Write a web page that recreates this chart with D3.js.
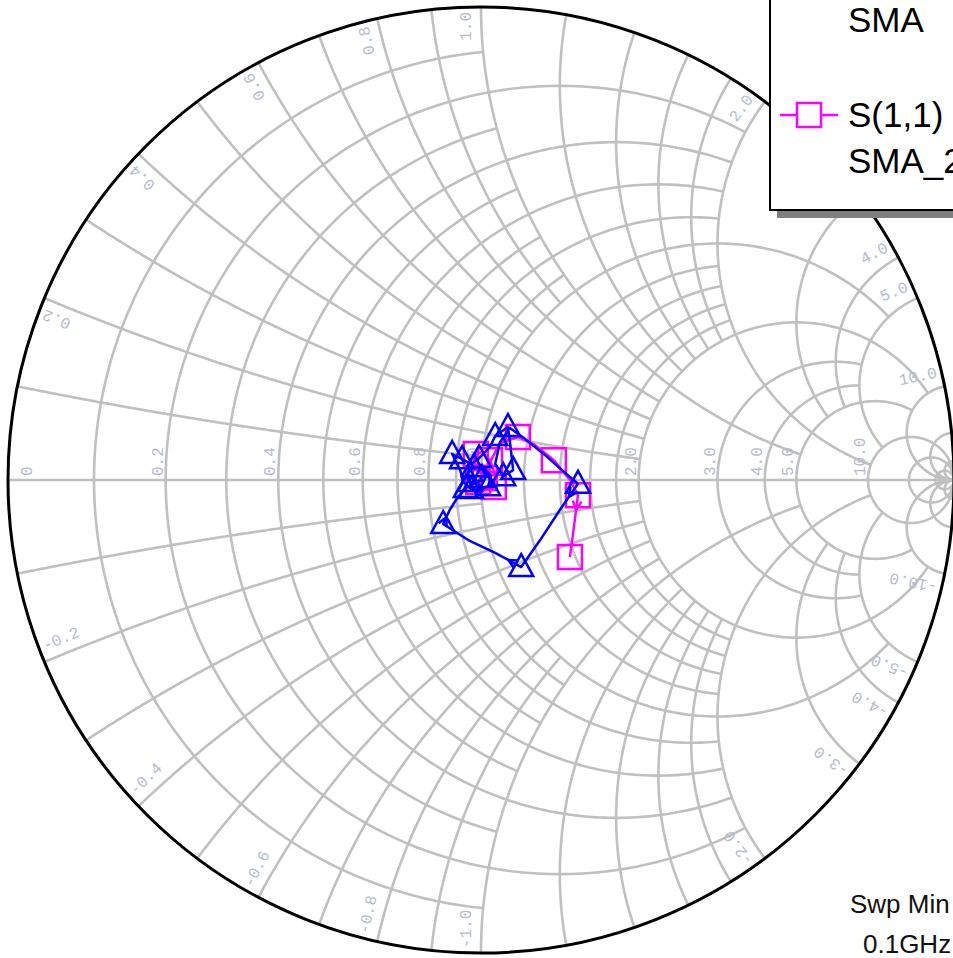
<!DOCTYPE html>
<html>
<head>
<meta charset="utf-8">
<script src="https://cdn.jsdelivr.net/npm/d3@7"></script>
<style>
  body { margin: 0; background: #fff; overflow: hidden; }
</style>
</head>
<body>
<div id="chart"></div>
<script>
// Smith chart geometry (pixels)
const W = 953, H = 958;
const cx = 481, cy = 480, R = 473;

// Grid: resistance circles and how far (in |x|) each one runs
const rValues = [0.1, 0.2, 0.3, 0.4, 0.5, 0.6, 0.7, 0.8, 0.9, 1.0, 1.2, 1.4, 1.6, 1.8, 2.0, 3.0, 4.0, 5.0, 10, 20, 50];
const rLimits = [1, 2, 1, 2, 1, 2, 1, 2, 1, 5, 2, 2, 2, 2, 10, 5, 5, 10, Infinity, Infinity, Infinity];
// Reactance arcs and how far (in r) each one runs
const xValues = [0.1, 0.2, 0.3, 0.4, 0.5, 0.6, 0.7, 0.8, 0.9, 1.0, 1.2, 1.4, 1.6, 1.8, 2.0, 3.0, 4.0, 5.0, 10, 20, 50];
const xLimits = [1, 2, 1, 2, 1, 2, 1, 2, 1, 5, 2, 2, 2, 2, 10, 5, 5, 10, Infinity, Infinity, Infinity];

// Tick labels
const rLabelValues = [0, 0.2, 0.4, 0.6, 0.8, 1.0, 2.0, 3.0, 4.0, 5.0, 10.0];
const xLabelValues = [0.2, 0.4, 0.6, 0.8, 1.0, 2.0, 3.0, 4.0, 5.0, 10.0];

// Traces, reflection coefficient (real, imag)
const smaRe = [0.002, -0.010, -0.023, -0.027, -0.015, 0.006, 0.021, 0.015, -0.002, -0.021, -0.038, -0.044, -0.061, -0.040, -0.021, -0.004, 0.019, 0.030, 0.057, 0.061, 0.068, 0.047, 0.030, 0.040, 0.061, 0.093, 0.135, 0.171, 0.205, 0.167, 0.125, 0.085, 0.030, -0.027, -0.080, -0.066, -0.049, -0.032, -0.015, 0.004];
const smaIm = [0.004, -0.008, -0.004, 0.015, 0.027, 0.025, 0.008, -0.013, -0.021, -0.019, -0.004, 0.021, 0.055, 0.044, 0.034, 0.046, 0.070, 0.093, 0.112, 0.082, 0.021, 0.008, 0.034, 0.080, 0.110, 0.087, 0.053, 0.021, -0.008, -0.063, -0.127, -0.184, -0.154, -0.127, -0.093, -0.063, -0.036, -0.017, -0.006, 0.000];
const smaMarkers = [0, 2, 4, 7, 9, 12, 13, 15, 17, 18, 20, 21, 28, 31, 34, 37];
const smaArrows = [29, 32, 35];

const sma2Re = [0.008, -0.006, -0.015, -0.011, 0.002, 0.019, 0.030, 0.027, 0.008, -0.006, 0.015, 0.040, 0.078, 0.114, 0.154, 0.188, 0.205, 0.197, 0.188];
const sma2Im = [0.004, 0.021, 0.040, 0.055, 0.059, 0.042, 0.011, -0.015, -0.021, -0.004, 0.030, 0.078, 0.091, 0.074, 0.042, 0.000, -0.032, -0.095, -0.163];
const sma2Markers = [0, 3, 5, 7, 9, 12, 14, 16, 18];
const sma2Arrows = [17];

const gx = d3.scaleLinear().domain([-1, 1]).range([cx - R, cx + R]);
const gy = d3.scaleLinear().domain([-1, 1]).range([cy + R, cy - R]);

const svg = d3.select("#chart").append("svg")
    .attr("width", W)
    .attr("height", H)
    .style("display", "block");

// z = r + jx  ->  gamma = (z-1)/(z+1)
function gam(r, x) {
    if (!isFinite(r) || !isFinite(x)) return [1, 0];
    const d = (r + 1) * (r + 1) + x * x;
    return [(r * r + x * x - 1) / d, 2 * x / d];
}

const line = d3.line().x(d => gx(d[0])).y(d => gy(d[1]));
const grid = svg.append("g")
    .attr("fill", "none")
    .attr("stroke", "#c0c0c0")
    .attr("stroke-width", 2.6);

// resistance arcs
rValues.forEach((r, i) => {
    const c = r / (1 + r), rho = 1 / (1 + r);
    const g = gam(r, rLimits[i]);
    const a0 = Math.atan2(g[1], g[0] - c);
    const pts = d3.range(0, 241).map(k => {
        const a = a0 + (2 * Math.PI - 2 * a0) * k / 240;
        return [c + rho * Math.cos(a), rho * Math.sin(a)];
    });
    grid.append("path").attr("d", line(pts));
});

// reactance arcs
xValues.forEach((x, i) => {
    const rho = 1 / x;
    const norm = a => (a + 2 * Math.PI) % (2 * Math.PI);
    const g0 = gam(0, x), g1 = gam(xLimits[i], x);
    const a0 = norm(Math.atan2(g0[1] - rho, g0[0] - 1));
    let a1 = norm(Math.atan2(g1[1] - rho, g1[0] - 1));
    if (a1 < a0) a1 += 2 * Math.PI;
    const pts = d3.range(0, 201).map(k => {
        const a = a0 + (a1 - a0) * k / 200;
        return [1 + rho * Math.cos(a), rho + rho * Math.sin(a)];
    });
    grid.append("path").attr("d", line(pts));
    grid.append("path").attr("d", line(pts.map(p => [p[0], -p[1]])));
});

// real axis with arrow
grid.append("line")
    .attr("x1", gx(-1)).attr("x2", gx(1) - 4)
    .attr("y1", gy(0)).attr("y2", gy(0));
svg.append("path")
    .attr("d", `M${gx(1) - 16},${gy(0) - 6} L${gx(1) - 2},${gy(0)} L${gx(1) - 16},${gy(0) + 6} Z`)
    .attr("fill", "#c0c0c0");

// outer circle
svg.append("circle")
    .attr("cx", cx).attr("cy", cy).attr("r", R)
    .attr("fill", "none")
    .attr("stroke", "#000")
    .attr("stroke-width", 3);

// labels
const labelFont = "'Liberation Mono', 'DejaVu Sans Mono', monospace";
const labels = svg.append("g")
    .attr("font-family", labelFont)
    .attr("font-size", 16)
    .attr("fill", "#b4bccb");

rLabelValues.forEach(r => {
    const xp = r === 0 ? gx(-1) + 24 : gx(gam(r, 0)[0]) - 3;
    labels.append("text")
        .attr("transform", `translate(${xp},${gy(0) - 4}) rotate(-90)`)
        .text(r === 0 ? "0" : r.toFixed(1));
});

xLabelValues.forEach(x => {
    [1, -1].forEach(s => {
        const g = gam(0, s * x);
        const th = Math.atan2(g[1], g[0]) * 180 / Math.PI;
        const a = s > 0 ? -th : -(th + 180);
        const up = [Math.sin(a * Math.PI / 180), -Math.cos(a * Math.PI / 180)];
        const px = gx(g[0] * (R - 5) / R) + up[0] * 10;
        const py = gy(g[1] * (R - 5) / R) + up[1] * 10;
        labels.append("text")
            .attr("transform", `translate(${px},${py}) rotate(${a})`)
            .attr("text-anchor", s > 0 ? "end" : "start")
            .text((s > 0 ? "" : "-") + x.toFixed(1));
    });
});

// traces
function arrowHead(g, p0, p1, color) {
    const x0 = gx(p0[0]), y0 = gy(p0[1]), x1 = gx(p1[0]), y1 = gy(p1[1]);
    const mx = (x0 + x1) / 2, my = (y0 + y1) / 2;
    const ang = Math.atan2(y1 - y0, x1 - x0);
    const l = 10, s = 0.45;
    g.append("path")
        .attr("d", `M${mx - l * Math.cos(ang - s)},${my - l * Math.sin(ang - s)} L${mx},${my} L${mx - l * Math.cos(ang + s)},${my - l * Math.sin(ang + s)}`)
        .attr("fill", "none").attr("stroke", color).attr("stroke-width", 2.5);
}

function drawTrace(re, im, markers, arrows, color, symbol) {
    const pts = re.map((v, i) => [v, im[i]]);
    const g = svg.append("g");
    g.append("path")
        .attr("d", line(pts))
        .attr("fill", "none")
        .attr("stroke", color)
        .attr("stroke-width", 2.5)
        .attr("stroke-linejoin", "round");
    arrows.forEach(i => arrowHead(g, pts[i - 1], pts[i], color));
    g.selectAll(".m")
        .data(markers)
        .enter().append("path")
        .attr("transform", i => `translate(${gx(pts[i][0])},${gy(pts[i][1])})`)
        .attr("d", symbol)
        .attr("fill", "none")
        .attr("stroke", color)
        .attr("stroke-width", 2.5);
}

const tri = "M0,-13 L12,9 L-12,9 Z";
const sq = "M-12,-12 H12 V12 H-12 Z";
drawTrace(sma2Re, sma2Im, sma2Markers, sma2Arrows, "#ff00ff", sq);
drawTrace(smaRe, smaIm, smaMarkers, smaArrows, "#0000ff", tri);

// legend
const lg = svg.append("g");
lg.append("rect").attr("x", 777).attr("y", -20).attr("width", 200).attr("height", 238).attr("fill", "#808080");
lg.append("rect").attr("x", 770).attr("y", -30).attr("width", 200).attr("height", 240)
    .attr("fill", "#fff").attr("stroke", "#000").attr("stroke-width", 2);
const legendFont = "'Liberation Sans', Arial, sans-serif";
lg.append("text").attr("x", 848).attr("y", 32).attr("font-family", legendFont).attr("font-size", 35).text("SMA");
lg.append("line").attr("x1", 780).attr("x2", 838).attr("y1", 115).attr("y2", 115)
    .attr("stroke", "#ff00ff").attr("stroke-width", 2.5);
lg.append("path").attr("transform", "translate(809,115)").attr("d", "M-12,-12 H12 V12 H-12 Z")
    .attr("fill", "#fff").attr("stroke", "#ff00ff").attr("stroke-width", 2.5);
lg.append("text").attr("x", 848).attr("y", 127).attr("font-family", legendFont).attr("font-size", 35).text("S(1,1)");
lg.append("text").attr("x", 848).attr("y", 173).attr("font-family", legendFont).attr("font-size", 35).text("SMA_2");

// sweep annotation
svg.append("text").attr("x", 850).attr("y", 913).attr("font-family", legendFont).attr("font-size", 26).attr("fill", "#111").text("Swp Min");
svg.append("text").attr("x", 863).attr("y", 953).attr("font-family", legendFont).attr("font-size", 26).attr("fill", "#111").text("0.1GHz");
</script>
</body>
</html>
